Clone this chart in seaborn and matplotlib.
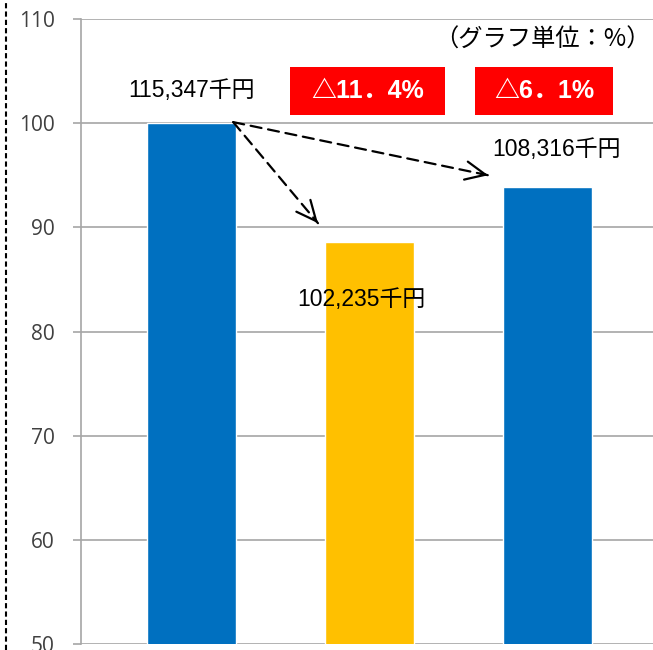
import matplotlib
matplotlib.use("Agg")
import matplotlib.pyplot as plt
from matplotlib.lines import Line2D
from matplotlib.patches import Rectangle
import seaborn as sns
import pandas as pd

# --- data -------------------------------------------------------------
periods = ["基準年度", "実績", "見込み"]
index_values = [100.0, 88.6, 93.9]          # % of the base year
amount_labels = ["115,347千円", "102,235千円", "108,316千円"]
change_labels = ["△11．4%", "△6．1%"]       # change vs. base for periods 2 and 3
unit_note = "（グラフ単位：%）"
y_ticks = [50, 60, 70, 80, 90, 100, 110]
bar_colors = ["#0070C0", "#FFC000", "#0070C0"]

# --- style ------------------------------------------------------------
sns.set_theme(style="white")
LABEL_FONT = ["Liberation Sans", "Noto Sans CJK JP"]
plt.rcParams["font.family"] = LABEL_FONT

W, H = 653, 650
fig = plt.figure(figsize=(W / 100, H / 100), dpi=100)
ax = fig.add_axes([81 / W, 6 / H, (W - 81) / W, (644 - 19) / H])

df = pd.DataFrame({"period": periods, "value": index_values})
sns.barplot(data=df, x="period", y="value", hue="period",
            palette=bar_colors, width=0.5, legend=False,
            saturation=1, ax=ax, zorder=3)

ax.set_ylim(50, 110)
ax.set_xlim(-0.62, 2.593)
ax.set_yticks(y_ticks)
ax.set_yticklabels([str(t) for t in y_ticks], fontfamily="Open Sans",
                   fontsize=15, color="#404040")
ax.set_xticks([])
ax.set_xlabel("")
ax.set_ylabel("")

grid_c = "#A6A6A6"
ax.yaxis.grid(True, color=grid_c, lw=1.2, zorder=0)
ax.tick_params(axis="y", left=True, length=6, width=1.2, color=grid_c, pad=13)
for side in ("top", "right", "bottom"):
    ax.spines[side].set_visible(False)
ax.spines["left"].set_color(grid_c)
ax.spines["left"].set_linewidth(1.2)

# amount labels
label_pos = [(0.0, 103.1), (0.955, 83.1), (2.05, 97.5)]
for (x, y), txt in zip(label_pos, amount_labels):
    ax.text(x, y, txt, ha="center", va="center", fontsize=16.5,
            color="black", family=LABEL_FONT, zorder=5)

# red boxes with the change rate, above periods 2 and 3
box_widths = [0.87, 0.775]
for i, (txt, bw) in enumerate(zip(change_labels, box_widths), start=1):
    xc = i - (0.01 if i == 1 else 0.02)
    ax.add_patch(Rectangle((xc - bw / 2, 100.8), bw, 4.6, facecolor="#FF0000",
                           edgecolor="none", zorder=4, clip_on=False))
    ax.text(xc, 103.1, txt, ha="center", va="center", fontsize=18,
            fontweight="bold", color="white", family=LABEL_FONT, zorder=5)

# unit note, right-aligned near the figure edge
ax.text(0.996, 108.0, unit_note, ha="right", va="center", fontsize=17.5,
        family=["Noto Sans CJK JP"], color="black", zorder=5,
        transform=ax.get_yaxis_transform())

# dashed arrows from the top of the base bar
start = (0.235, 100.1)
ends = [(0.711, 90.4), (1.667, 95.0)]
for end in ends:
    ax.annotate("", xy=end, xytext=start,
                arrowprops=dict(arrowstyle="-", lw=1.6, color="black",
                                linestyle=(0, (5, 3)), shrinkA=0, shrinkB=0),
                zorder=5)
    dx, dy = end[0] - start[0], end[1] - start[1]
    near = (end[0] - dx * 0.03, end[1] - dy * 0.03)
    ax.annotate("", xy=end, xytext=near,
                arrowprops=dict(arrowstyle="->,head_length=1.2,head_width=0.55",
                                lw=1.6, color="black", shrinkA=0, shrinkB=0),
                zorder=5)

# dotted frame line at the left edge
fig.add_artist(Line2D([6 / W, 6 / W], [0, 1], transform=fig.transFigure,
                      color="black", lw=1.5, linestyle=(0, (2.5, 1.5))))

fig.savefig("out.png", dpi=100, facecolor="white")
